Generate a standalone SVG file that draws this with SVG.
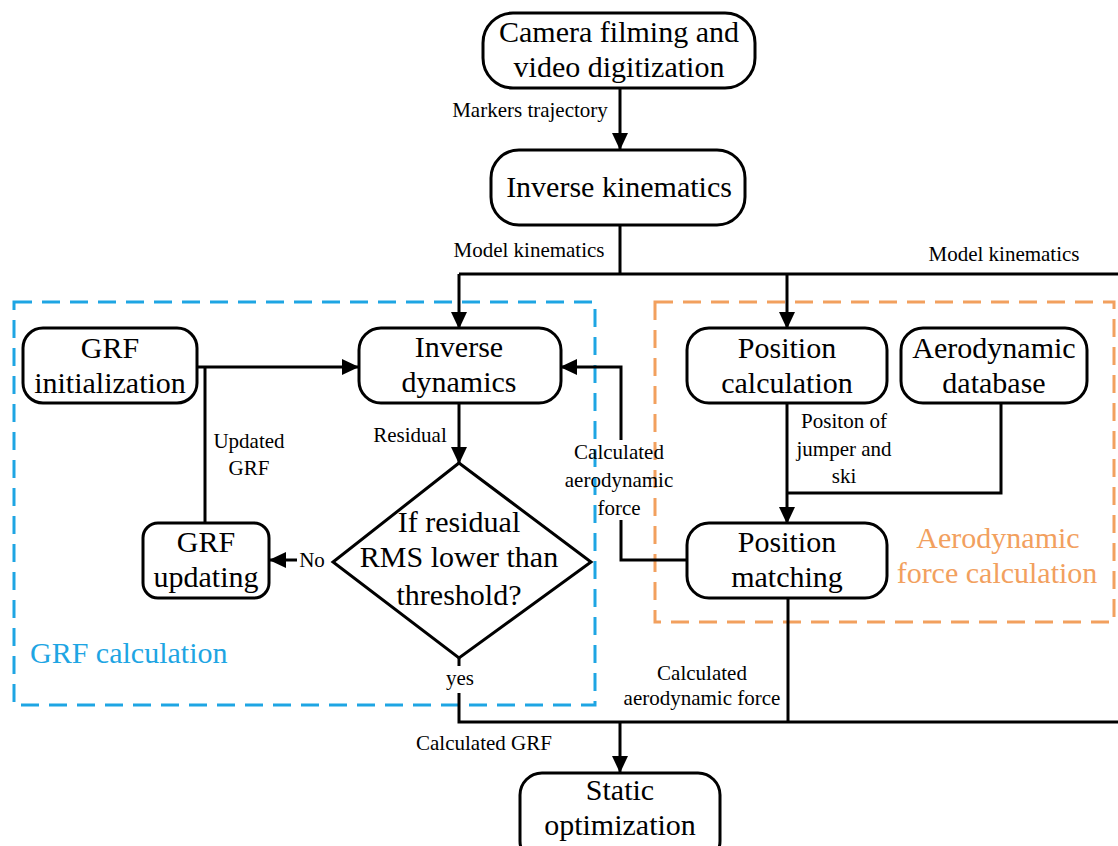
<svg xmlns="http://www.w3.org/2000/svg" width="1118" height="846" viewBox="0 0 1118 846" font-family="Liberation Serif, Times New Roman, Tinos, DejaVu Serif, serif">
<style>
.box{fill:#fff;stroke:#000;stroke-width:3}
.ln{fill:none;stroke:#000;stroke-width:3}
.big{font-size:30px;fill:#000;text-anchor:middle}
.sm{font-size:21px;fill:#000;text-anchor:middle}
.blue{font-size:30px;fill:#1ea5e3}
.orange{font-size:30px;fill:#f2a05e;text-anchor:middle}
</style>
<defs>
<marker id="ah" markerWidth="17" markerHeight="16" refX="16" refY="8" orient="auto" markerUnits="userSpaceOnUse">
<path d="M0,0 L17,8 L0,16 Z" fill="#000"/>
</marker>
</defs>
<rect width="1118" height="846" fill="#fff"/>

<g id="groups">
<rect x="14" y="302" width="581" height="403" fill="none" stroke="#1ea5e3" stroke-width="3" stroke-dasharray="18,10"/>
<text class="blue" x="30" y="663">GRF calculation</text>
<rect x="655" y="302" width="459" height="320" fill="none" stroke="#f2a05e" stroke-width="3" stroke-dasharray="18,10"/>
<text class="orange" x="998" y="548">Aerodynamic</text>
<text class="orange" x="997" y="583">force calculation</text>
</g>

<g id="connectors">
<line class="ln" x1="620" y1="88" x2="620" y2="149" marker-end="url(#ah)"/>
<path class="ln" d="M620,225 V274 M459,274 H1118"/>
<line class="ln" x1="459" y1="274" x2="459" y2="328" marker-end="url(#ah)"/>
<line class="ln" x1="787" y1="274" x2="787" y2="328" marker-end="url(#ah)"/>
<line class="ln" x1="197" y1="367" x2="358" y2="367" marker-end="url(#ah)"/>
<line class="ln" x1="205" y1="367" x2="205" y2="523"/>
<line class="ln" x1="459" y1="403" x2="459" y2="463" marker-end="url(#ah)"/>
<line class="ln" x1="297" y1="560" x2="270" y2="560" marker-end="url(#ah)"/>
<path class="ln" d="M459,658 V666 M459,693 V722 H1118"/>
<line class="ln" x1="620" y1="722" x2="620" y2="772" marker-end="url(#ah)"/>
<line class="ln" x1="787" y1="403" x2="787" y2="523" marker-end="url(#ah)"/>
<path class="ln" d="M1001,403 V493 H787"/>
<path class="ln" d="M687,560 H621 V520"/>
<path class="ln" d="M621,440 V367 H561" marker-end="url(#ah)"/>
<line class="ln" x1="788" y1="598" x2="788" y2="722"/>
<text class="sm" x="530" y="117">Markers trajectory</text>
<text class="sm" x="529" y="257">Model kinematics</text>
<text class="sm" x="1004" y="261">Model kinematics</text>
<text class="sm" x="410" y="442">Residual</text>
<text class="sm" x="249" y="448">Updated</text>
<text class="sm" x="249" y="475">GRF</text>
<text class="sm" x="312" y="567">No</text>
<text class="sm" x="460" y="685">yes</text>
<text class="sm" x="619" y="459">Calculated</text>
<text class="sm" x="619" y="487">aerodynamic</text>
<text class="sm" x="619" y="515">force</text>
<text class="sm" x="844" y="428">Positon of</text>
<text class="sm" x="844" y="456">jumper and</text>
<text class="sm" x="844" y="483">ski</text>
<text class="sm" x="702" y="680">Calculated</text>
<text class="sm" x="702" y="705">aerodynamic force</text>
<text class="sm" x="484" y="750">Calculated GRF</text>
</g>

<g id="camera">
<rect class="box" x="483" y="13" width="272" height="75" rx="30"/>
<text class="big" x="619" y="42">Camera filming and</text>
<text class="big" x="619" y="77">video digitization</text>
</g>
<g id="inverse-kinematics">
<rect class="box" x="491" y="150" width="254" height="75" rx="28"/>
<text class="big" x="619" y="197">Inverse kinematics</text>
</g>
<g id="grf-init">
<rect class="box" x="23" y="328" width="174" height="75" rx="20"/>
<text class="big" x="110" y="358">GRF</text>
<text class="big" x="110" y="393">initialization</text>
</g>
<g id="inverse-dynamics">
<rect class="box" x="359" y="328" width="202" height="75" rx="22"/>
<text class="big" x="459" y="357">Inverse</text>
<text class="big" x="459" y="392">dynamics</text>
</g>
<g id="grf-updating">
<rect class="box" x="143" y="523" width="126" height="75" rx="15"/>
<text class="big" x="206" y="552">GRF</text>
<text class="big" x="206" y="587">updating</text>
</g>
<g id="decision">
<polygon class="box" points="459,463 591,562 459,658 333,562"/>
<text class="big" x="459" y="532">If residual</text>
<text class="big" x="459" y="567">RMS lower than</text>
<text class="big" x="459" y="605">threshold?</text>
</g>
<g id="position-calculation">
<rect class="box" x="687" y="328" width="200" height="75" rx="22"/>
<text class="big" x="787" y="358">Position</text>
<text class="big" x="787" y="393">calculation</text>
</g>
<g id="aero-database">
<rect class="box" x="901" y="328" width="186" height="75" rx="22"/>
<text class="big" x="994" y="358">Aerodynamic</text>
<text class="big" x="994" y="393">database</text>
</g>
<g id="position-matching">
<rect class="box" x="687" y="523" width="200" height="75" rx="22"/>
<text class="big" x="787" y="552">Position</text>
<text class="big" x="787" y="587">matching</text>
</g>
<g id="static-optimization">
<rect class="box" x="520" y="773" width="200" height="90" rx="22"/>
<text class="big" x="620" y="800">Static</text>
<text class="big" x="620" y="835">optimization</text>
</g>
</svg>
